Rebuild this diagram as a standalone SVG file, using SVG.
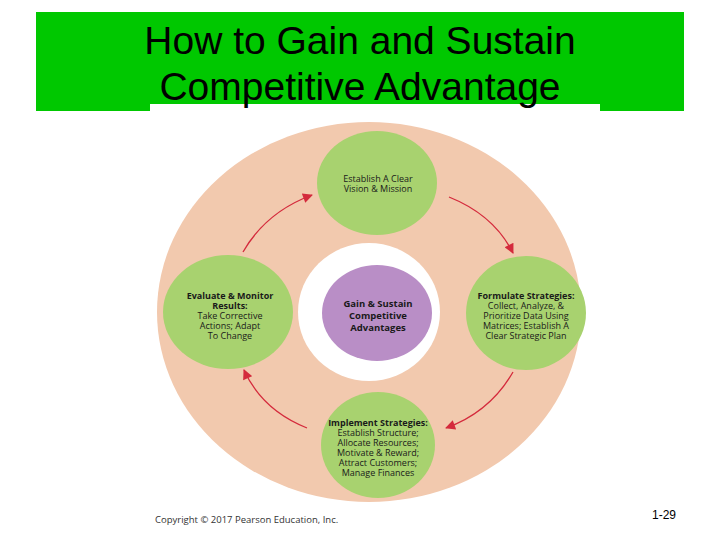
<svg xmlns="http://www.w3.org/2000/svg" width="720" height="540" viewBox="0 0 720 540">
<defs>
<style>
.title{font-family:"Liberation Sans",Arial,sans-serif;font-size:39px;fill:#000;text-anchor:middle}
.lbl{font-family:"Open Sans","DejaVu Sans",sans-serif;font-size:9px;fill:#1a1a1a;text-anchor:middle}
.bold{font-weight:bold}
.green{fill:#a8d26f}
.arr{fill:none;stroke:#d42a3c;stroke-width:1.3}
</style>
<marker id="ah" viewBox="0 0 10 10" refX="9" refY="5" markerWidth="12" markerHeight="10" markerUnits="userSpaceOnUse" orient="auto">
<path d="M0,0 L10,5 L0,10 Z" fill="#d42a3c"/>
</marker>
</defs>
<rect width="720" height="540" fill="#fff"/>
<g id="header">
<rect x="36" y="12" width="648" height="99" fill="#00c800"/>
<rect x="150" y="104" width="450" height="7" fill="#fff"/>
<text class="title" x="360" y="54">How to Gain and Sustain</text>
<text class="title" x="360" y="100">Competitive Advantage</text>
</g>
<g id="ring">
<ellipse cx="369" cy="312" rx="212" ry="190" fill="#f2c9ae"/>
<ellipse cx="369" cy="312" rx="71" ry="69" fill="#fff"/>
</g>
<g id="connectors">
<path class="arr" d="M243,252 Q266,212 312,195" marker-end="url(#ah)"/>
<path class="arr" d="M449,197 Q494,215 513,253" marker-end="url(#ah)"/>
<path class="arr" d="M513,372 Q490,412 446,428" marker-end="url(#ah)"/>
<path class="arr" d="M307,428 Q262,410 244,370" marker-end="url(#ah)"/>
</g>
<g id="center">
<ellipse cx="377" cy="313" rx="55" ry="48" fill="#b98ec6"/>
<text class="lbl bold" x="378" y="307" style="font-size:9.5px">Gain &amp; Sustain</text>
<text class="lbl bold" x="378" y="319" style="font-size:9.5px">Competitive</text>
<text class="lbl bold" x="378" y="331" style="font-size:9.5px">Advantages</text>
</g>
<g id="vision">
<ellipse class="green" cx="377" cy="183" rx="60" ry="52"/>
<text class="lbl" x="378" y="182">Establish A Clear</text>
<text class="lbl" x="378" y="192">Vision &amp; Mission</text>
</g>
<g id="evaluate">
<ellipse class="green" cx="228" cy="312" rx="65" ry="57"/>
<text class="lbl bold" x="230" y="299">Evaluate &amp; Monitor</text>
<text class="lbl bold" x="230" y="309">Results:</text>
<text class="lbl" x="230" y="319">Take Corrective</text>
<text class="lbl" x="230" y="329">Actions; Adapt</text>
<text class="lbl" x="230" y="339">To Change</text>
</g>
<g id="formulate">
<ellipse class="green" cx="526" cy="313" rx="60" ry="57"/>
<text class="lbl bold" x="526" y="299">Formulate Strategies:</text>
<text class="lbl" x="526" y="309">Collect, Analyze, &amp;</text>
<text class="lbl" x="526" y="319">Prioritize Data Using</text>
<text class="lbl" x="526" y="329">Matrices; Establish A</text>
<text class="lbl" x="526" y="339">Clear Strategic Plan</text>
</g>
<g id="implement">
<ellipse class="green" cx="378" cy="445" rx="57" ry="53"/>
<text class="lbl bold" x="378" y="426">Implement Strategies:</text>
<text class="lbl" x="378" y="436">Establish Structure;</text>
<text class="lbl" x="378" y="446">Allocate Resources;</text>
<text class="lbl" x="378" y="456">Motivate &amp; Reward;</text>
<text class="lbl" x="378" y="466">Attract Customers;</text>
<text class="lbl" x="378" y="476">Manage Finances</text>
</g>
<g id="footer">
<text x="155" y="523" style="font-family:'Open Sans','DejaVu Sans',sans-serif;font-size:9.5px;fill:#333">Copyright © 2017 Pearson Education, Inc.</text>
<text x="652" y="519" style="font-family:'Liberation Sans',Arial,sans-serif;font-size:12px;fill:#000">1-29</text>
</g>
</svg>
